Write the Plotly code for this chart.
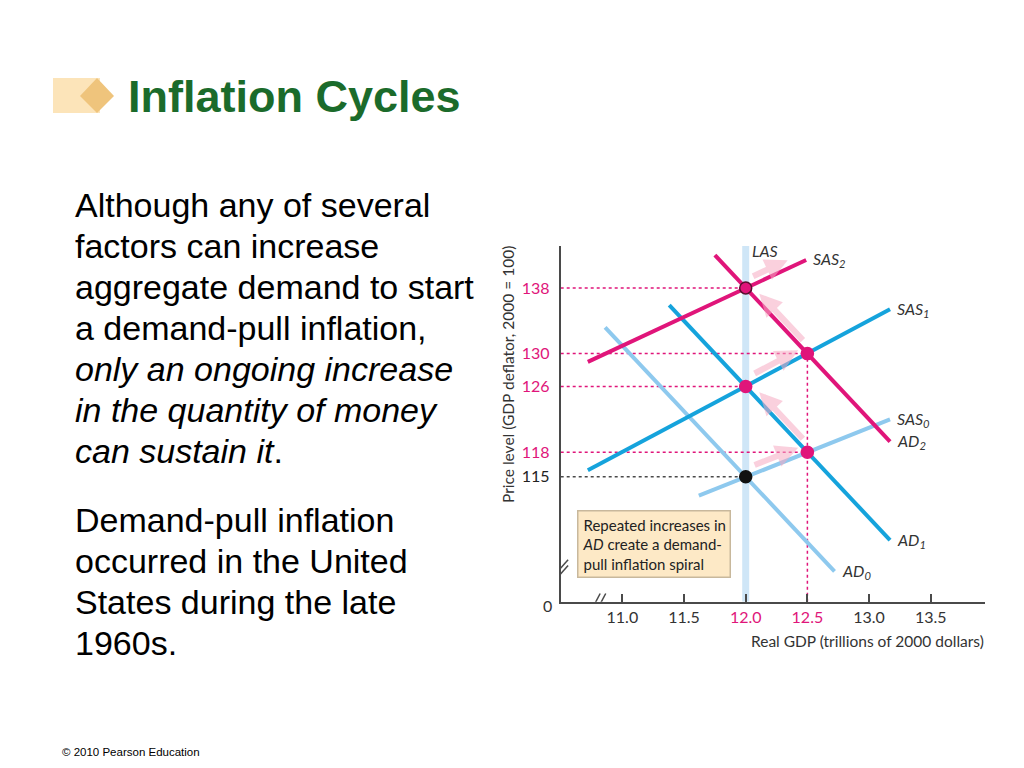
import plotly.graph_objects as go

# equilibrium points along the demand-pull spiral
eq_x = [12.0, 12.5, 12.0, 12.5, 12.0]
eq_y = [115, 118, 126, 130, 138]
eq_colors = ['#111111', '#e0157a', '#e0157a', '#e0157a', '#e0157a']

# curves (end points)
curves = {
    'AD0': ([10.86, 12.72], [133.2, 103.5]),
    'AD1': ([11.38, 13.17], [135.9, 107.3]),
    'AD2': ([11.75, 13.17], [142.0, 119.3]),
    'SAS0': ([11.62, 13.17], [112.7, 122.0]),
    'SAS1': ([10.72, 13.17], [115.8, 135.4]),
    'SAS2': ([10.72, 12.49], [129.0, 141.4]),
}
curve_labels = {
    'AD0': 'AD<sub>0</sub>', 'AD1': 'AD<sub>1</sub>', 'AD2': 'AD<sub>2</sub>',
    'SAS0': 'SAS<sub>0</sub>', 'SAS1': 'SAS<sub>1</sub>', 'SAS2': 'SAS<sub>2</sub>',
}
las_x = [12.0, 12.0]
las_y = [99.8, 143.1]

x_ticks = [11.0, 11.5, 12.0, 12.5, 13.0, 13.5]
x_tick_text = ['11.0', '11.5', '12.0', '12.5', '13.0', '13.5']
y_ticks = [115, 118, 126, 130, 138]
y_tick_text = ['115', '118', '126', '130', '138']

PINK = '#e0157a'
BLUE = '#15a3dc'
LIGHT = '#8ec9ee'
GREY = '#4a4a4a'
colors = {'AD0': LIGHT, 'SAS0': LIGHT, 'AD1': BLUE, 'SAS1': BLUE, 'AD2': PINK, 'SAS2': PINK}

X0, X1 = 10.5, 13.94
Y0, Y1 = 99.8, 143.1

# page has an 8px body margin
W, H, OFF = 1008, 752, 8


def px(x):
    return (x - OFF) / W


def py(y):
    return 1 - (y - OFF) / H


fig = go.Figure()

# LAS
fig.add_trace(go.Scatter(x=las_x, y=las_y, mode='lines',
                         line=dict(color='#cfe6f7', width=7), hoverinfo='skip'))

# dotted guide lines
for i, (xe, ye) in enumerate(zip(eq_x, eq_y)):
    c = GREY if i == 0 else PINK
    fig.add_trace(go.Scatter(x=[X0, xe], y=[ye, ye], mode='lines',
                             line=dict(color=c, width=1.5, dash='dot'), hoverinfo='skip'))
fig.add_trace(go.Scatter(x=[eq_x[1], eq_x[3]], y=[Y0, eq_y[3]], mode='lines',
                         line=dict(color=PINK, width=1.5, dash='dot'), hoverinfo='skip'))

# curves
for name in ['AD0', 'SAS0', 'AD1', 'SAS1', 'AD2', 'SAS2']:
    xs, ys = curves[name]
    fig.add_trace(go.Scatter(x=xs, y=ys, mode='lines',
                             line=dict(color=colors[name], width=4), hoverinfo='skip'))

# spiral arrows (light pink)
arrow_pts_x = eq_x + [12.4]
arrow_pts_y = eq_y + [140.8]
for i in range(len(arrow_pts_x) - 1):
    xa, ya = arrow_pts_x[i], arrow_pts_y[i]
    xb, yb = arrow_pts_x[i + 1], arrow_pts_y[i + 1]
    dx, dy = xb - xa, yb - ya
    off_y = 1.0 if dx > 0 else 0.5
    off_x = 0.0 if dx > 0 else 0.035
    fig.add_annotation(x=xa + 0.85 * dx + off_x, y=ya + 0.85 * dy + off_y,
                       ax=xa + 0.12 * dx + off_x, ay=ya + 0.12 * dy + off_y,
                       xref='x', yref='y', axref='x', ayref='y', text='',
                       showarrow=True, arrowhead=2, arrowsize=0.75, arrowwidth=6,
                       arrowcolor='rgba(246,170,195,0.55)')

# equilibrium markers
fig.add_trace(go.Scatter(x=eq_x, y=eq_y, mode='markers',
                         marker=dict(color=eq_colors, size=12,
                                     line=dict(color=['#111111', PINK, PINK, PINK, '#5a1030'], width=1.5)),
                         hoverinfo='skip'))

# curve labels
for name, lab in curve_labels.items():
    xs, ys = curves[name]
    fig.add_annotation(x=xs[1], y=ys[1], xref='x', yref='y', text='<i>' + lab + '</i>',
                       showarrow=False, xanchor='left', yanchor='middle', xshift=5,
                       font=dict(size=16, color='#333333', family='Lato'))
fig.add_annotation(x=12.0, y=142.6, xref='x', yref='y', text='<i>LAS</i>', showarrow=False,
                   xanchor='left', yanchor='middle', xshift=4,
                   font=dict(size=16, color='#333333', family='Lato'))

# note box
fig.add_annotation(x=px(577), y=py(510), xref='paper', yref='paper',
                   text='Repeated increases in<br><i>AD</i> create a demand-<br>pull inflation spiral',
                   showarrow=False, xanchor='left', yanchor='top', align='left',
                   bgcolor='#fde9c6', bordercolor='#c8b89c', borderwidth=1.5, borderpad=4,
                   font=dict(size=15, color='#222222', family='Lato'))

# axis titles and origin
fig.add_annotation(x=px(508), y=py(375), xref='paper', yref='paper',
                   text='Price level (GDP deflator, 2000 = 100)', textangle=-90, showarrow=False,
                   font=dict(size=15.5, color='#333333', family='Lato'))
fig.add_annotation(x=px(986), y=py(641), xref='paper', yref='paper',
                   text='Real GDP (trillions of 2000 dollars)', showarrow=False,
                   xanchor='right', yanchor='middle',
                   font=dict(size=15.5, color='#333333', family='Lato'))
fig.add_annotation(x=px(547), y=py(617), xref='paper', yref='paper', text='0',
                   showarrow=False, font=dict(size=16, color='#333333', family='Lato'))

# axis breaks
for k in (0, 1):
    fig.add_shape(type='line', xref='x', yref='y',
                  x0=10.75 + k * 0.045, y0=Y0 - 1.0, x1=10.82 + k * 0.045, y1=Y0 + 1.0,
                  line=dict(color=GREY, width=1.5))
    fig.add_shape(type='line', xref='x', yref='y',
                  x0=X0 - 0.06, y0=102.2 + k * 0.7, x1=X0 + 0.06, y1=104.2 + k * 0.7,
                  line=dict(color=GREY, width=1.5))

# slide heading decoration
fig.add_shape(type='rect', xref='paper', yref='paper', x0=px(53), x1=px(100),
              y0=py(113), y1=py(78), fillcolor='#fce4b9', line=dict(width=0))
fig.add_shape(type='path', xref='paper', yref='paper',
              path='M %f %f L %f %f L %f %f L %f %f Z' % (px(80), py(96), px(97), py(78),
                                                          px(114), py(96), px(97), py(113)),
              fillcolor='#efc47c', line=dict(width=0))
fig.add_annotation(x=px(126), y=py(97), xref='paper', yref='paper', text='<b>Inflation Cycles</b>',
                   showarrow=False, xanchor='left', yanchor='middle',
                   font=dict(size=45, color='#1b6b2b', family='Liberation Sans'))

body = [
    (205, 'Although any of several'),
    (246, 'factors can increase'),
    (287, 'aggregate demand to start'),
    (328, 'a demand-pull inflation,'),
    (369, '<i>only an ongoing increase</i>'),
    (410, '<i>in the quantity of money</i>'),
    (451, '<i>can sustain it</i>.'),
    (520, 'Demand-pull inflation'),
    (561, 'occurred in the United'),
    (602, 'States during the late'),
    (643, '1960s.'),
]
for ypix, line in body:
    fig.add_annotation(x=px(73), y=py(ypix), xref='paper', yref='paper', text=line,
                       showarrow=False, xanchor='left', yanchor='middle',
                       font=dict(size=34, color='#000000', family='Liberation Sans'))
fig.add_annotation(x=px(60), y=py(752), xref='paper', yref='paper',
                   text='© 2010 Pearson Education', showarrow=False, xanchor='left', yanchor='middle',
                   font=dict(size=11.5, color='#000000', family='Liberation Sans'))


def colored(vals, texts, pink_vals, other):
    return ['<span style="color:%s">%s</span>' % (PINK if v in pink_vals else other, t)
            for v, t in zip(vals, texts)]


fig.update_xaxes(range=[X0, X1], domain=[px(560.7), px(985)], showgrid=False, zeroline=False,
                 showline=True, linecolor=GREY, linewidth=2, ticks='inside', ticklen=8,
                 tickwidth=2, tickcolor=GREY, tickvals=x_ticks,
                 ticktext=colored(x_ticks, x_tick_text, [12.0, 12.5], '#333333'),
                 tickfont=dict(size=16, family='Lato'))
fig.update_yaxes(range=[Y0, Y1], domain=[py(601.7), py(246)], showgrid=False, zeroline=False,
                 showline=True, linecolor=GREY, linewidth=2, ticks='', tickvals=y_ticks,
                 ticktext=colored(y_ticks, y_tick_text, [118, 126, 130, 138], '#222222'),
                 tickfont=dict(size=16, family='Lato'), ticklabelstandoff=6)
fig.update_layout(width=W, height=H, margin=dict(l=0, r=0, t=0, b=0),
                  paper_bgcolor='white', plot_bgcolor='white', showlegend=False)

fig.write_html("out.html")
